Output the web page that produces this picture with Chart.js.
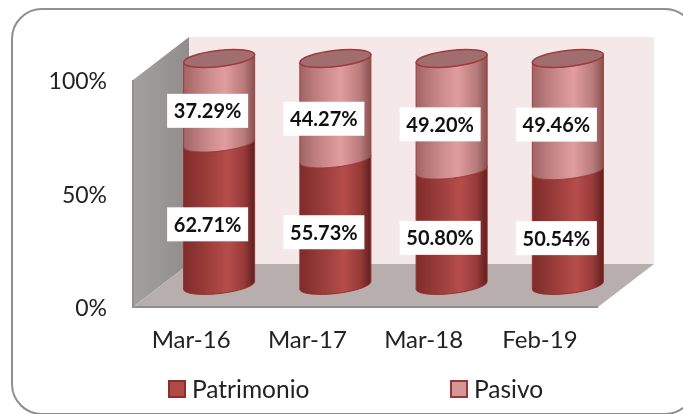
<!DOCTYPE html>
<html><head><meta charset="utf-8">
<style>html,body{margin:0;padding:0;background:#fff}canvas{display:block}</style>
<script src="https://cdn.jsdelivr.net/npm/chart.js@4"></script>
</head><body><canvas id="c" width="683" height="414"></canvas>
<script>
const categories = ['Mar-16','Mar-17','Mar-18','Feb-19'];
const patrimonio = [62.71,55.73,50.80,50.54];
const pasivo = [37.29,44.27,49.20,49.46];
const yTicks = [0,50,100];

const FONT = 'Lato, "Open Sans", sans-serif';
const DX = 56, DY = -43;           // depth of the 3D box
const ROT = -6.5*Math.PI/180, RY = 8;

const looks = [
  {stops:[[0,'#7e2c2b'],[.3,'#983b39'],[.62,'#b64d4b'],[.85,'#973a38'],[1,'#5f1f1f']], stroke:'#97302f'},
  {stops:[[0,'#a06464'],[.3,'#c78686'],[.58,'#e19d9d'],[.85,'#b87a7a'],[1,'#875050']], stroke:'#a23c3c'}
];

function body(ctx,cx,yt,yb,rx){
  ctx.beginPath();
  ctx.ellipse(cx,yt,rx,RY,ROT,Math.PI,0,true);
  ctx.ellipse(cx,yb,rx,RY,ROT,0,Math.PI,false);
  ctx.closePath();
}
const scene = {
  id:'scene',
  beforeDraw(chart){
    const {ctx,chartArea:a} = chart;
    ctx.save();
    // rounded frame
    ctx.strokeStyle='#8f8f8f'; ctx.lineWidth=2;
    ctx.beginPath(); ctx.roundRect(12,9,683,405,30); ctx.stroke();
    // back wall
    ctx.fillStyle='#f4e8e8';
    ctx.fillRect(a.left+DX,a.top+DY,a.right-a.left,a.bottom-a.top);
    // left wall
    const g=ctx.createLinearGradient(a.left,0,a.left+DX,0);
    g.addColorStop(0,'#a3a0a0'); g.addColorStop(1,'#918d8d');
    ctx.fillStyle=g;
    ctx.beginPath(); ctx.moveTo(a.left,a.top); ctx.lineTo(a.left+DX,a.top+DY);
    ctx.lineTo(a.left+DX,a.bottom+DY); ctx.lineTo(a.left,a.bottom); ctx.closePath(); ctx.fill();
    // floor
    ctx.fillStyle='#b8aeae';
    ctx.beginPath(); ctx.moveTo(a.left,a.bottom); ctx.lineTo(a.right,a.bottom);
    ctx.lineTo(a.right+DX,a.bottom+DY); ctx.lineTo(a.left+DX,a.bottom+DY); ctx.closePath(); ctx.fill();
    ctx.strokeStyle='#8f8f8f'; ctx.lineWidth=2;
    ctx.beginPath(); ctx.moveTo(a.left,a.top); ctx.lineTo(a.left,a.bottom); ctx.lineTo(a.right,a.bottom); ctx.stroke();
    ctx.restore();
  },
  beforeDatasetsDraw(chart){
    const ctx=chart.ctx;
    const m0=chart.getDatasetMeta(0).data, m1=chart.getDatasetMeta(1).data;
    ctx.save();
    m0.forEach((el,i)=>{
      const up=m1[i], rx=el.width/2, cx=el.x+DX/2;
      [[el,0],[up,1]].forEach(([e,k])=>{
        const L=looks[k];
        const g=ctx.createLinearGradient(cx-rx,0,cx+rx,0);
        L.stops.forEach(s=>g.addColorStop(s[0],s[1]));
        ctx.fillStyle=g; ctx.strokeStyle=L.stroke; ctx.lineWidth=1;
        body(ctx,cx,e.y+DY/2,e.base+DY/2,rx);
        ctx.fill(); ctx.stroke();
      });
      ctx.beginPath();
      ctx.ellipse(cx,up.y+DY/2,rx,RY,ROT,0,Math.PI*2);
      ctx.fillStyle='#a06e6e'; ctx.fill();
      ctx.strokeStyle='#a33a3a'; ctx.lineWidth=1.5; ctx.stroke();
    });
    ctx.restore();
    return false;
  },
  afterDraw(chart){
    const ctx=chart.ctx;
    ctx.save();
    // value labels
    chart.data.datasets.forEach((ds,d)=>{
      chart.getDatasetMeta(d).data.forEach((el,i)=>{
        const x=el.x+16.5, y=(el.y+el.base)/2-11.5;
        ctx.fillStyle='#fff'; ctx.fillRect(x-40.5,y-17,81,34);
        ctx.fillStyle='#111'; ctx.font='bold 20px '+FONT;
        ctx.textAlign='center'; ctx.textBaseline='middle';
        ctx.fillText(ds.data[i].toFixed(2)+'%',x,y+1);
      });
    });
    // legend
    const lx=[169,451];
    chart.data.datasets.forEach((ds,d)=>{
      ctx.fillStyle=ds.backgroundColor; ctx.strokeStyle=ds.borderColor; ctx.lineWidth=2;
      ctx.fillRect(lx[d],381,16,16); ctx.strokeRect(lx[d],381,16,16);
      ctx.fillStyle='#222'; ctx.font='24.5px '+FONT; ctx.textAlign='left'; ctx.textBaseline='middle';
      ctx.fillText(ds.label,lx[d]+23,390);
    });
    ctx.restore();
  }
};

new Chart(document.getElementById('c'),{
  type:'bar',
  data:{labels:categories,datasets:[
    {label:'Patrimonio',data:patrimonio,backgroundColor:'#b04a48',borderColor:'#8b2e2e'},
    {label:'Pasivo',data:pasivo,backgroundColor:'#d99594',borderColor:'#903a3a'}
  ]},
  options:{
    responsive:false,animation:false,
    categoryPercentage:1,barPercentage:.615,
    layout:{padding:{left:0,top:80,right:85,bottom:0}},
    plugins:{legend:{display:false},tooltip:{enabled:false}},
    scales:{
      x:{stacked:true,grid:{display:false},border:{display:false},
         afterFit(s){s.height=107;},
         ticks:{padding:11,color:'#222',maxRotation:0,autoSkip:false,font:{family:FONT,size:24}}},
      y:{stacked:true,min:0,max:100,grid:{display:false},border:{display:false},
         afterFit(s){s.width=133;},
         afterBuildTicks(s){s.ticks=yTicks.map(v=>({value:v}));},
         ticks:{padding:18,labelOffset:2,color:'#222',font:{family:FONT,size:23},callback:v=>v+'%'}}
    }
  },
  plugins:[scene]
});
</script></body></html>
